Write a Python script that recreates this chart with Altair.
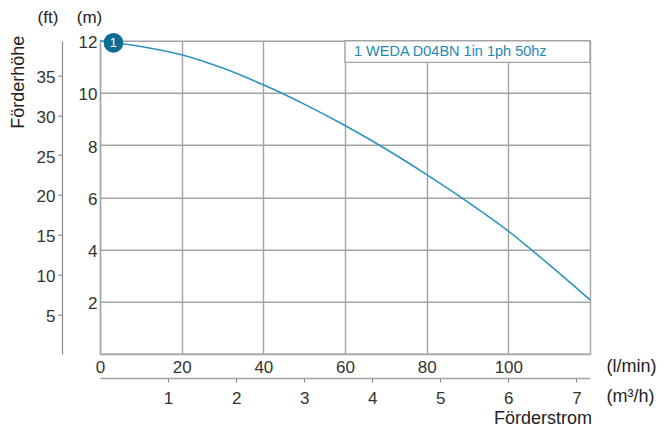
import altair as alt
import pandas as pd

# ---- data ----
q_lmin = [0, 10, 20, 30, 40, 50, 60, 70, 80, 90, 100, 110, 120]
head_m = [12.0, 11.78, 11.46, 10.95, 10.31, 9.57, 8.75, 7.85, 6.87, 5.83, 4.71, 3.42, 2.07]
x_ticks_lmin = [0, 20, 40, 60, 80, 100, 120]
y_ticks_m = [0, 2, 4, 6, 8, 10, 12]
y_ticks_ft = [5, 10, 15, 20, 25, 30, 35]
x_ticks_m3h = [1, 2, 3, 4, 5, 6, 7]
marker_q = [3.3]
marker_h = [11.92]
marker_label = ["1"]
legend_label = ["1 WEDA D04BN 1in 1ph 50hz"]
legend_box_q = [60, 120]
legend_box_h = [12, 11.17]
legend_text_q = [62.2]
legend_text_h = [11.58]

FONT = "Liberation Sans"
TXT = "#333333"
GRID = "#a3a3a3"
AX = "#8a8a8a"
LINE = "#2a93c0"
MARK = "#0d6c91"

W, H = 490, 313.3

xs = alt.Scale(domain=[0, 120], nice=False, zero=False)
ys = alt.Scale(domain=[0, 12], nice=False, zero=False)

curve_df = pd.DataFrame({"q": q_lmin, "h": head_m})

curve = alt.Chart(curve_df).mark_line(
    color=LINE, strokeWidth=1.6, interpolate="monotone"
).encode(
    x=alt.X("q:Q", scale=xs, axis=alt.Axis(
        values=x_ticks_lmin, grid=True, gridColor=GRID, gridWidth=1.4,
        ticks=False, domainColor=GRID, domainWidth=1.4, labelFlush=False,
        labelExpr="datum.value >= 120 ? '' : datum.label",
        labelPadding=5.5, labelFontSize=17, labelColor=TXT, labelFont=FONT,
        title=None)),
    y=alt.Y("h:Q", scale=ys, axis=alt.Axis(
        values=y_ticks_m, grid=True, gridColor=GRID, gridWidth=1.4,
        ticks=False, domainColor=GRID, domainWidth=1.4, labelFlush=False,
        labelExpr="datum.value == 0 ? '' : datum.label",
        labelPadding=3, labelOffset=2, labelFontSize=17, labelColor=TXT, labelFont=FONT,
        title=None)),
)

box = alt.Chart(pd.DataFrame({
    "x1": [legend_box_q[0]], "x2": [legend_box_q[1]],
    "y1": [legend_box_h[0]], "y2": [legend_box_h[1]],
})).mark_rect(fill="white", stroke=GRID, strokeWidth=1.4).encode(
    x=alt.X("x1:Q", scale=xs), x2="x2:Q",
    y=alt.Y("y1:Q", scale=ys), y2="y2:Q",
)

box_text = alt.Chart(pd.DataFrame({
    "x": legend_text_q, "y": legend_text_h, "t": legend_label
})).mark_text(
    align="left", baseline="middle", fontSize=14.5, font=FONT, color="#1f88b5"
).encode(x=alt.X("x:Q", scale=xs), y=alt.Y("y:Q", scale=ys), text="t:N")

marker = alt.Chart(pd.DataFrame({
    "x": marker_q, "y": marker_h, "t": marker_label
})).mark_circle(size=390, color=MARK, opacity=1).encode(
    x=alt.X("x:Q", scale=xs), y=alt.Y("y:Q", scale=ys)
)
marker_text = alt.Chart(pd.DataFrame({
    "x": marker_q, "y": marker_h, "t": marker_label
})).mark_text(color="white", fontSize=13, font=FONT, baseline="middle").encode(
    x=alt.X("x:Q", scale=xs), y=alt.Y("y:Q", scale=ys), text="t:N"
)

one = pd.DataFrame({"a": [0]})

def label(txt, px, py, size=18, angle=0, align="center"):
    return alt.Chart(one).mark_text(
        text=txt, fontSize=size, font=FONT, color="#222222",
        align=align, baseline="middle", angle=angle
    ).encode(x=alt.value(px), y=alt.value(py))

titles = [
    label("(ft)", -52, -23.0, size=17),
    label("(m)", -10.5, -23.0, size=17),
    label("Förderhöhe", -81, 41.5, angle=270),
    label("(l/min)", 506.5, 326, align="left"),
    label("(m³/h)", 506.5, 356, align="left"),
    label("Förderstrom", 443, 378.5),
]

main = alt.layer(curve, box, box_text, marker, marker_text, *titles)

ft_layer = alt.Chart(pd.DataFrame({"ft": y_ticks_ft})).mark_point(opacity=0).encode(
    y=alt.Y("ft:Q", scale=alt.Scale(domain=[0, 12 / 0.3048], nice=False, zero=False),
            axis=alt.Axis(orient="left", offset=38, values=y_ticks_ft, grid=False,
                          tickSize=4, tickColor=AX, tickWidth=1.2, labelFlush=False,
                          domainColor=AX, domainWidth=1.2,
                          labelPadding=3, labelOffset=2, labelFontSize=17,
                          labelColor=TXT, labelFont=FONT, title=None))
)

m3h_layer = alt.Chart(pd.DataFrame({"m3h": x_ticks_m3h})).mark_point(opacity=0).encode(
    x=alt.X("m3h:Q", scale=alt.Scale(domain=[0, 7.2], nice=False, zero=False),
            axis=alt.Axis(orient="bottom", offset=24, values=x_ticks_m3h, grid=False,
                          tickSize=4, tickColor=AX, tickWidth=1.2, labelFlush=False,
                          domainColor=GRID, domainWidth=1.4,
                          labelPadding=8, labelFontSize=17,
                          labelColor=TXT, labelFont=FONT, title=None))
)

chart = alt.layer(main, ft_layer, m3h_layer).resolve_scale(
    x="independent", y="independent"
).properties(
    width=W, height=H,
    autosize=alt.AutoSizeParams(type="none"),
    padding={"left": 92, "top": 32.7, "right": 74, "bottom": 74},
).configure_view(stroke=None)

chart.save("out.html", embed_options={"renderer": "svg", "actions": False})
